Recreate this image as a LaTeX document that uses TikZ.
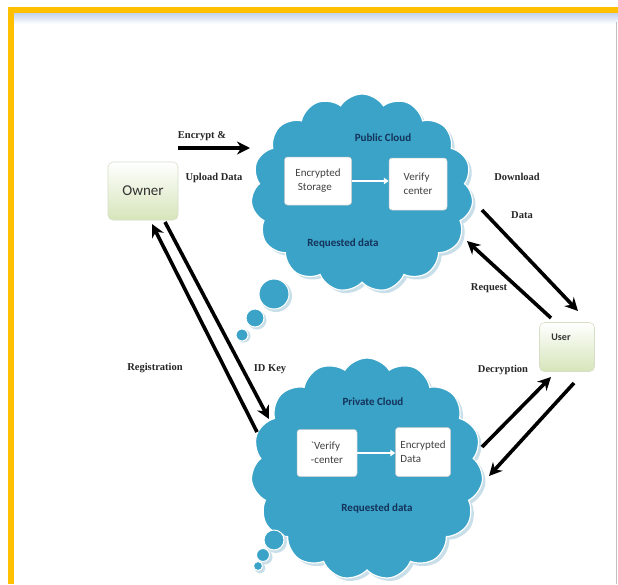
\documentclass[tikz,border=0pt]{standalone}
\usepackage{fontspec}
\setmainfont{Liberation Serif}
\newfontfamily\boxfont{Carlito}
\usetikzlibrary{shapes.symbols,arrows.meta,calc}
\definecolor{frameorange}{RGB}{255,192,0}
\definecolor{rulerblue}{RGB}{196,210,236}
\definecolor{cloudblue}{RGB}{58,163,199}
\definecolor{cloudshadow}{RGB}{200,222,232}
\definecolor{labelblue}{RGB}{20,50,90}
\definecolor{boxgreen}{RGB}{214,229,186}
\definecolor{boxedge}{RGB}{215,222,200}
\tikzset{
  cloudshape/.style={cloud, cloud puffs=15, cloud puff arc=115, aspect=1.1, inner sep=0pt},
  cloudfill/.style={cloudshape, fill=cloudblue, draw=white, line width=1.2pt},
  cloudshade/.style={cloudshape, fill=cloudshadow, draw=none},
  bubble/.style={circle, fill=cloudblue, draw=white, line width=1pt, inner sep=0pt},
  bubbleshade/.style={circle, fill=cloudshadow, draw=none, inner sep=0pt},
  greenbox/.style={rounded corners=5pt, top color=white, bottom color=boxgreen, draw=boxedge, line width=0.6pt},
  innerbox/.style={rounded corners=3pt, fill=white, draw=gray!40, line width=0.5pt, align=left,
    font=\boxfont\fontsize{11}{16}\selectfont, text=black!75, inner sep=3pt},
  cloudlabel/.style={font=\boxfont\bfseries\fontsize{11}{12}\selectfont, text=labelblue},
  arrlabel/.style={font=\bfseries\fontsize{10.5}{12}\selectfont, text=black!85},
  bigarrow/.style={line width=3.6pt, black, -{Stealth[length=13pt,width=13pt]}},
  innerarrow/.style={line width=2.2pt, white, -{Triangle[length=5pt,width=6.5pt]}},
}
\begin{document}
\begin{tikzpicture}[x=1pt,y=-1pt]
\useasboundingbox (0,0) rectangle (618,584);
\fill[white] (0,0) rectangle (618,584);
% frame
\fill[frameorange] (8,7) rectangle (618,13);
\fill[frameorange] (8,7) rectangle (14,584);
\shade[top color=rulerblue, bottom color=white] (14,13) rectangle (618,24);
\draw[gray!50, line width=1pt] (616,22) -- (616,584);

% public cloud
\node[cloudshade, minimum width=222pt, minimum height=198pt] at (365,196) {};
\node[cloudfill, minimum width=222pt, minimum height=198pt] (pub) at (362,193) {};
\node[bubbleshade, minimum size=32pt] at (276,296) {};
\node[bubble, minimum size=30pt] (pb1) at (274,294) {};
\node[bubbleshade, minimum size=19pt] at (257,320) {};
\node[bubble, minimum size=18pt] (pb2) at (255,318) {};
\node[bubbleshade, minimum size=13pt] at (244,336) {};
\node[bubble, minimum size=12pt] (pb3) at (242,335) {};

\node[cloudlabel] (publabel) at (383,138) {Public Cloud};
\node[innerbox, minimum width=67pt, minimum height=48pt] (encstore) at (318,181) {Encrypted\\[-2pt]\ Storage};
\node[innerbox, minimum width=58pt, minimum height=52pt] (vcpub) at (418,184) {Verify\\[-2pt]center};
\draw[innerarrow] (encstore.east) -- (vcpub.west |- encstore.east);
\node[cloudlabel] (pubreq) at (343,243) {Requested data};

% private cloud
\node[cloudshade, minimum width=232pt, minimum height=222pt] at (370,472) {};
\node[cloudfill, minimum width=232pt, minimum height=222pt] (priv) at (367,469) {};
\node[bubbleshade, minimum size=22pt] at (276,542) {};
\node[bubble, minimum size=20pt] (qb1) at (274,540) {};
\node[bubbleshade, minimum size=15pt] at (265,557) {};
\node[bubble, minimum size=13pt] (qb2) at (263,555) {};
\node[bubbleshade, minimum size=11pt] at (260,568) {};
\node[bubble, minimum size=9pt] (qb3) at (258,566) {};

\node[cloudlabel] (privlabel) at (373,402) {Private Cloud};
\node[innerbox, minimum width=60pt, minimum height=47pt] (vcpriv) at (327,453) {`Verify\\[-2pt]-center};
\node[innerbox, minimum width=55pt, minimum height=49pt] (encdata) at (423,452) {Encrypted\\[-2pt]Data};
\draw[innerarrow] (vcpriv.east) -- (encdata.west |- vcpriv.east);
\node[cloudlabel] (privreq) at (377,508) {Requested data};

% owner & user
\node[greenbox, minimum width=70pt, minimum height=58pt, font=\boxfont\fontsize{15}{15}\selectfont, text=black!80] (owner) at (143,191) {Owner};
\node[greenbox, minimum width=55pt, minimum height=49pt] (user) at (567,347) {};
\node[font=\boxfont\bfseries\fontsize{10}{10}\selectfont, text=black!80] (userlabel) at (561,337) {User};

% arrows
\coordinate (e1) at (178,148);
\coordinate (e2) at (250,148);
\draw[bigarrow] (e1) -- (e2);
\node[arrlabel] (lenc) at (202,136) {Encrypt \&};
\node[arrlabel] (lup) at (214,178) {Upload Data};

\coordinate (r1) at (257,432);
\coordinate (r2) at (152,224);
\draw[bigarrow] (r1) -- (r2);
\coordinate (k1) at (165,222);
\coordinate (k2) at (269,419);
\draw[bigarrow] (k1) -- (k2);
\node[arrlabel] (lreg) at (155,368) {Registration};
\node[arrlabel] (lkey) at (270,369) {ID Key};

\coordinate (d1) at (482,210);
\coordinate (d2) at (578,311);
\draw[bigarrow] (d1) -- (d2);
\coordinate (q1) at (551,318);
\coordinate (q2) at (467,241);
\draw[bigarrow] (q1) -- (q2);
\node[arrlabel] (ldown) at (517,177) {Download};
\node[arrlabel] (ldata) at (522,215) {Data};
\node[arrlabel] (lreq) at (489,288) {Request};

\coordinate (c1) at (482,447);
\coordinate (c2) at (551,377);
\draw[bigarrow] (c1) -- (c2);
\coordinate (u1) at (574,383);
\coordinate (u2) at (489,476);
\draw[bigarrow] (u1) -- (u2);
\node[arrlabel] (ldec) at (503,370) {Decryption};
\end{tikzpicture}
\end{document}
